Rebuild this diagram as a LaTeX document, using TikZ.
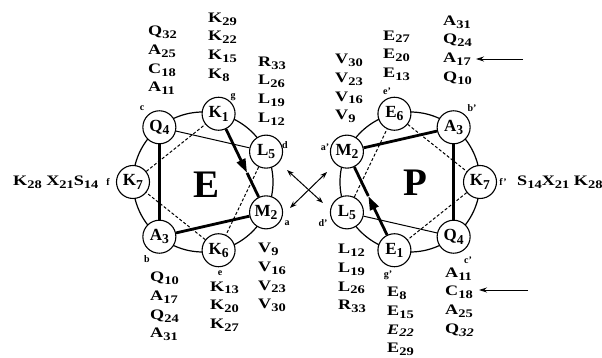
\documentclass[tikz,border=0pt]{standalone}
\usepackage{fontspec}
\setmainfont{Liberation Serif}
\newfontfamily\colfont{Liberation Serif}[FakeStretch=1.25]
\usetikzlibrary{arrows.meta,calc}
\makeatletter
\newcommand\sbs[1]{\raisebox{-0.2em}{\fontsize{\the\dimexpr\f@size pt*4/5\relax}{0pt}\selectfont#1}}
\makeatother
\begin{document}
\begin{tikzpicture}[x=1pt,y=1pt,
  res/.style={circle,draw,fill=white,line width=1.1pt,minimum size=33pt,inner sep=0pt,font=\bfseries\fontsize{17}{18}\selectfont},
  poslab/.style={inner sep=0pt,font=\bfseries\fontsize{10}{12}\selectfont},
  col/.style={align=left,anchor=west,inner sep=0pt,font=\colfont\bfseries\fontsize{14.5}{18.7}\selectfont},
  ring/.style={line width=1.2pt},
  thickln/.style={line width=2.8pt},
  thinln/.style={line width=1pt},
  dashln/.style={line width=1pt,dash pattern=on 3pt off 2pt},
  bigl/.style={inner sep=0pt,font=\bfseries\fontsize{39}{40}\selectfont},
  dbl/.style={line width=1pt,{Stealth[length=7pt,width=5pt]}-{Stealth[length=7pt,width=5pt]}},
  pointer/.style={line width=0.8pt,-{Stealth[length=8pt,width=5pt]}},
  headarrow/.style={line width=2.8pt,-{Triangle[length=14pt,width=9pt]}},
]
\useasboundingbox (0,0) rectangle (602,358);
\coordinate (EC) at (203,176);
\coordinate (PC) at (410,176);
\draw[ring] (EC) circle[radius=70pt];
\draw[ring] (PC) circle[radius=70pt];

% E wheel
\node[res] (eK1) at ($(EC)+(77.14:70pt)$) {K\sbs{1}};
\node[res] (eM2) at ($(EC)+(-25.71:70pt)$) {M\sbs{2}};
\node[res] (eA3) at ($(EC)+(-128.57:70pt)$) {A\sbs{3}};
\node[res] (eQ4) at ($(EC)+(128.57:70pt)$) {Q\sbs{4}};
\node[res] (eL5) at ($(EC)+(25.71:70pt)$) {L\sbs{5}};
\node[res] (eK6) at ($(EC)+(-77.14:70pt)$) {K\sbs{6}};
\node[res] (eK7) at ($(EC)+(180:70pt)$) {K\sbs{7}};

% P wheel
\node[res] (pE1) at ($(PC)+(257.14:70pt)$) {E\sbs{1}};
\node[res] (pM2) at ($(PC)+(154.29:70pt)$) {M\sbs{2}};
\node[res] (pA3) at ($(PC)+(51.43:70pt)$) {A\sbs{3}};
\node[res] (pQ4) at ($(PC)+(308.57:70pt)$) {Q\sbs{4}};
\node[res] (pL5) at ($(PC)+(205.71:70pt)$) {L\sbs{5}};
\node[res] (pE6) at ($(PC)+(102.86:70pt)$) {E\sbs{6}};
\node[res] (pK7) at ($(PC)+(0:70pt)$) {K\sbs{7}};

% E connectors
\coordinate (eTip) at ($(eK1)!0.6!(eM2)$);
\draw[headarrow] (eK1) -- (eTip);
\draw[thickln] (eTip) -- (eM2);
\draw[thickln] (eM2) -- (eA3);
\draw[thickln] (eA3) -- (eQ4);
\draw[thinln] (eQ4) -- (eL5);
\draw[dashln] (eL5) -- (eK6);
\draw[dashln] (eK6) -- (eK7);
\draw[dashln] (eK7) -- (eK1);

% P connectors
\coordinate (pTip) at ($(pE1)!0.55!(pM2)$);
\draw[headarrow] (pE1) -- (pTip);
\draw[thickln] (pTip) -- (pM2);
\draw[thickln] (pM2) -- (pA3);
\draw[thickln] (pA3) -- (pQ4);
\draw[thinln] (pQ4) -- (pL5);
\draw[dashln] (pL5) -- (pE6);
\draw[dashln] (pE6) -- (pK7);
\draw[dashln] (pK7) -- (pE1);

% big letters
\node[bigl] (bigE) at (207,173) {E};
\node[bigl] (bigP) at (415,175) {P};

% position labels
\node[poslab] (lc) at (142,250) {c};
\node[poslab] (lg) at (233,261) {g};
\node[poslab] (ld) at (285,213) {d};
\node[poslab] (la) at (287,135) {a};
\node[poslab] (le) at (220,85) {e};
\node[poslab] (lb) at (147,99) {b};
\node[poslab] (lf) at (108,176) {f};
\node[poslab] (lap) at (325,211) {a'};
\node[poslab] (lep) at (387,267) {e'};
\node[poslab] (lbp) at (472,250) {b'};
\node[poslab] (lfp) at (503,176) {f'};
\node[poslab] (lcp) at (468,98) {c'};
\node[poslab] (lgp) at (388,83) {g'};
\node[poslab] (ldp) at (323,135) {d'};

% residue columns, E
\node[col] (cQ4) at (148,297.5) {Q\sbs{32}\\A\sbs{25}\\C\sbs{18}\\A\sbs{11}};
\node[col] (cK1) at (208,311) {K\sbs{29}\\K\sbs{22}\\K\sbs{15}\\K\sbs{8}};
\node[col] (cL5) at (258,267) {R\sbs{33}\\L\sbs{26}\\L\sbs{19}\\L\sbs{12}};
\node[col] (cA3) at (150,51.5) {Q\sbs{10}\\A\sbs{17}\\Q\sbs{24}\\A\sbs{31}};
\node[col] (cK6) at (210,51.5) {K\sbs{13}\\K\sbs{20}\\K\sbs{27}};
\node[col] (cM2) at (258,80.5) {V\sbs{9}\\V\sbs{16}\\V\sbs{23}\\V\sbs{30}};
\node[col] (cK7) at (13,176) {K\sbs{28} X\sbs{21}S\sbs{14}};

% residue columns, P
\node[col] (dM2) at (335,269.5) {V\sbs{30}\\V\sbs{23}\\V\sbs{16}\\V\sbs{9}};
\node[col] (dE6) at (383,302.5) {E\sbs{27}\\E\sbs{20}\\E\sbs{13}};
\node[col] (dA3) at (443,308) {A\sbs{31}\\Q\sbs{24}\\A\sbs{17}\\Q\sbs{10}};
\node[col] (dK7) at (517,176) {S\sbs{14}X\sbs{21} K\sbs{28}};
\node[col] (dL5) at (338,79.5) {L\sbs{12}\\L\sbs{19}\\L\sbs{26}\\R\sbs{33}};
\node[col] (dE1) at (387,36.5) {E\sbs{8}\\E\sbs{15}\\\textit{E\sbs{22}}\\E\sbs{29}};
\node[col] (dQ4) at (445,56) {A\sbs{11}\\C\sbs{18}\\A\sbs{25}\\Q\sbs{\textit{32}}};

% cross arrows
\coordinate (xa1) at (287,188);
\coordinate (xa2) at (323,155);
\coordinate (xb1) at (290,150);
\coordinate (xb2) at (327,186);
\draw[dbl] (xa1) -- (xa2);
\draw[dbl] (xb1) -- (xb2);

% pointers
\coordinate (ptAs) at (523,299);
\coordinate (ptAe) at (476,299);
\coordinate (ptCs) at (528,68);
\coordinate (ptCe) at (479,68);
\draw[pointer] (ptAs) -- (ptAe);
\draw[pointer] (ptCs) -- (ptCe);
\end{tikzpicture}
\end{document}
